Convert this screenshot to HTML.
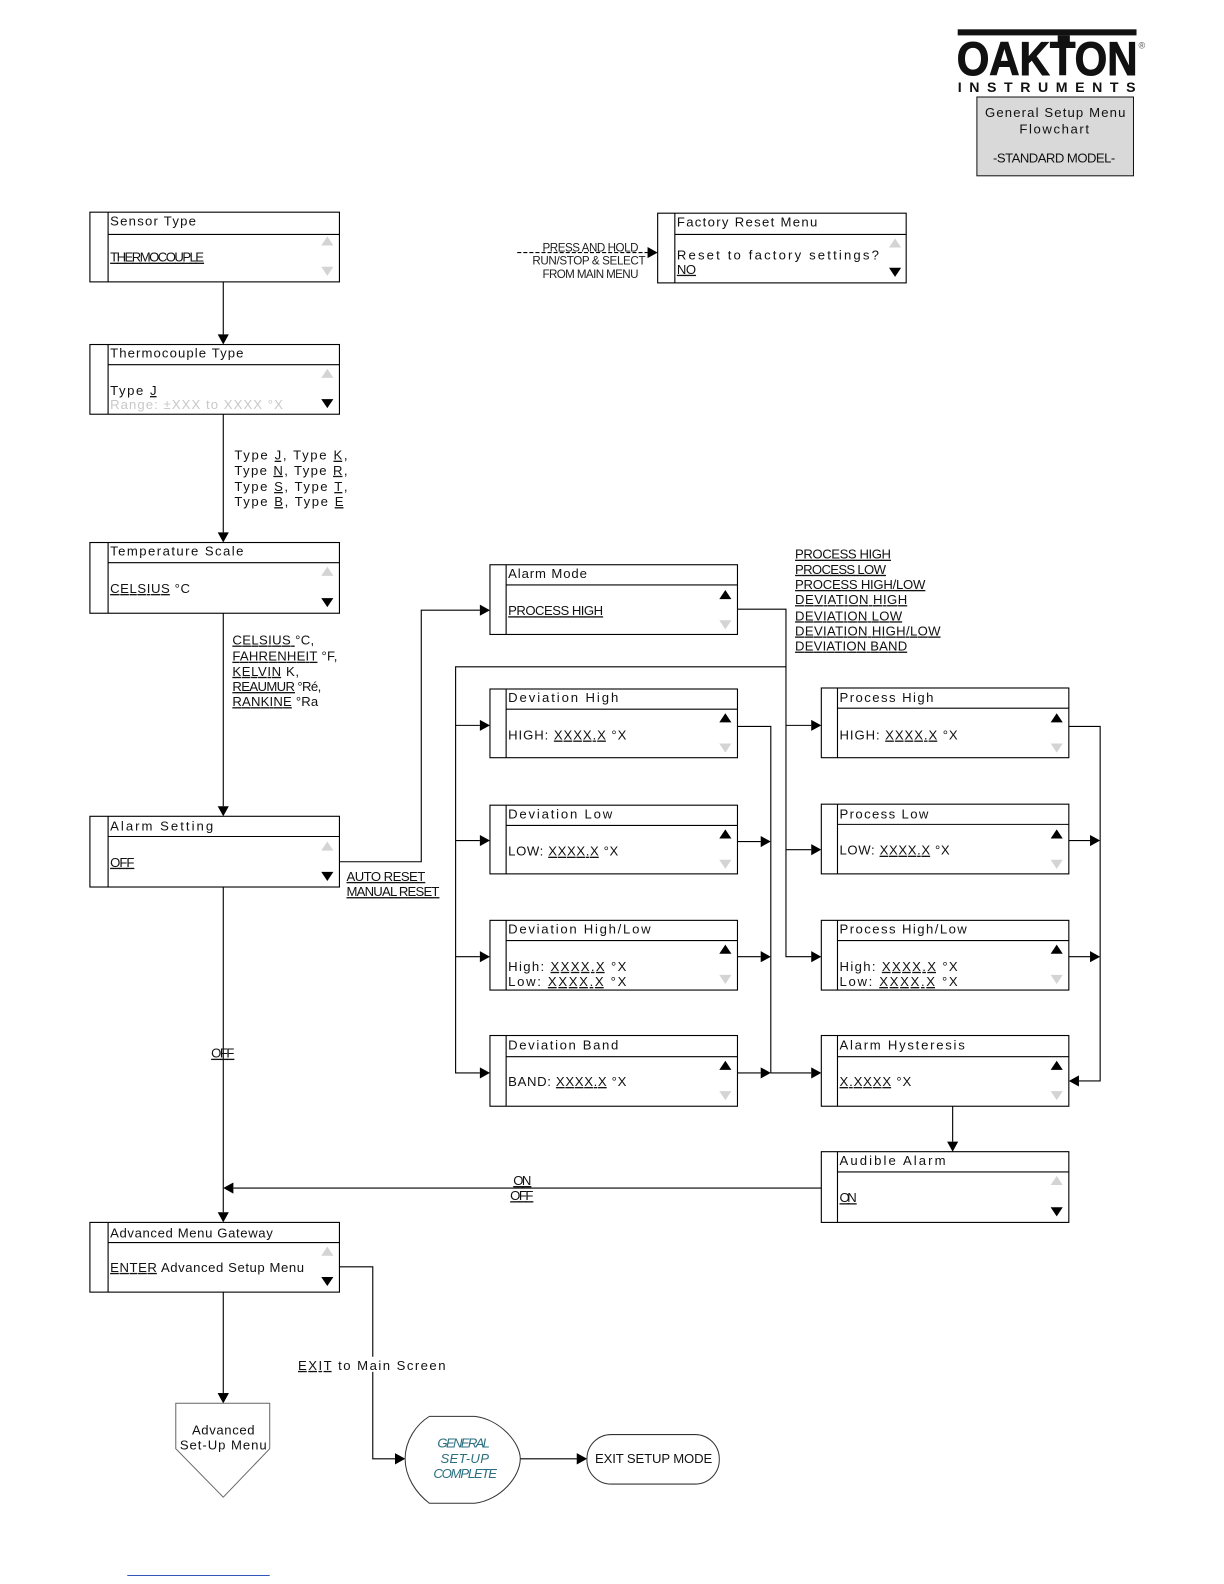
<!DOCTYPE html>
<html><head><meta charset="utf-8"><style>
html,body{margin:0;padding:0;background:#fff;width:1224px;height:1584px;overflow:hidden}
svg{display:block}
text{font-family:"Liberation Sans",sans-serif;font-size:13px;fill:#111}
.b{fill:#fff;stroke:#000;stroke-width:1.1}
.l{fill:none;stroke:#000;stroke-width:1.1}
.g{fill:#d4d4d4}.k{fill:#000}
.u{text-decoration:underline}
</style></head><body>
<svg width="1224" height="1584" viewBox="0 0 1211.6 1567.9" xmlns="http://www.w3.org/2000/svg">
<defs>
<polygon id="up" points="-6,4 6,4 0,-5"/>
<polygon id="dn" points="-6,-4 6,-4 0,5"/>
<polygon id="ar" points="-10,-5.5 0,0 -10,5.5" fill="#000"/>
<polygon id="ad" points="-5.5,-10 5.5,-10 0,0" fill="#000"/>
<polygon id="al" points="10,-5.5 0,0 10,5.5" fill="#000"/>
</defs>

<!-- logo -->
<rect x="948" y="29" width="177" height="6" fill="#111"/>
<rect x="1047" y="35" width="12" height="12" fill="#111"/>
<text x="947" y="74" textLength="179" lengthAdjust="spacingAndGlyphs" style="font-size:47px;font-weight:bold;stroke:#111;stroke-width:1">OAKTON</text>
<text x="948" y="91" textLength="176" style="font-size:14px;font-weight:bold">INSTRUMENTS</text>
<text x="1127" y="48" style="font-size:9px;fill:#555">®</text>
<rect x="967" y="96" width="155" height="78" fill="#d9d9d9" stroke="#111" stroke-width="1"/>
<text x="975" y="116" textLength="139">General  Setup  Menu</text>
<text x="1009" y="132" textLength="69">Flowchart</text>
<text x="983" y="161" textLength="121">-STANDARD MODEL-</text>

<!-- connectors -->
<path class="l" d="M221 279V331M221 410V527M221 607V798M221 878V1200M221 1279V1379"/>
<use href="#ad" x="221" y="341"/><use href="#ad" x="221" y="537"/><use href="#ad" x="221" y="808"/><use href="#ad" x="221" y="1210"/><use href="#ad" x="221" y="1389"/>
<path class="l" d="M336 853H417V604H475"/><use href="#ar" x="485" y="604"/>
<path class="l" d="M730 603H778V947H803M778 660H451V1062H475M451 718H475M451 832H475M451 947H475M778 718H803M778 841H803"/>
<use href="#ar" x="485" y="718"/><use href="#ar" x="485" y="832"/><use href="#ar" x="485" y="947"/><use href="#ar" x="485" y="1062"/>
<use href="#ar" x="813" y="718"/><use href="#ar" x="813" y="841"/><use href="#ar" x="813" y="947"/>
<path class="l" d="M730 719H763V1062H803M730 833H753M730 947H753M730 1062H753"/>
<use href="#ar" x="763" y="833"/><use href="#ar" x="763" y="947"/><use href="#ar" x="763" y="1062"/><use href="#ar" x="813" y="1062"/>
<path class="l" d="M1058 719H1089V1070H1068M1058 832H1079M1058 947H1079"/>
<use href="#ar" x="1089" y="832"/><use href="#ar" x="1089" y="947"/><use href="#al" x="1058" y="1070"/>
<path class="l" d="M943 1095V1130"/><use href="#ad" x="943" y="1140"/>
<path class="l" d="M813 1176H231"/><use href="#al" x="221" y="1176"/>
<path class="l" d="M336 1254H369V1444H391"/><use href="#ar" x="401" y="1444"/>
<path class="l" d="M515 1444H571"/><use href="#ar" x="581" y="1444"/>
<path class="l" d="M512 250H641" stroke-dasharray="4 2"/><use href="#ar" x="651" y="250"/>

<!-- Sensor Type -->
<rect class="b" x="89" y="210" width="247" height="69"/><path class="l" d="M107 210V279M107 232H336"/>
<text x="109" y="223" textLength="85">Sensor  Type</text>
<text x="109" y="259" textLength="93" class="u">THERMOCOUPLE</text>
<use href="#up" x="324" y="239" class="g"/><use href="#dn" x="324" y="268" class="g"/>

<!-- Thermocouple -->
<rect class="b" x="89" y="341" width="247" height="69"/><path class="l" d="M107 341V410M107 361H336"/>
<text x="109" y="354" textLength="132">Thermocouple  Type</text>
<text x="109" y="391" textLength="46">Type <tspan class="u"> J</tspan></text>
<text x="109" y="405" textLength="171" style="fill:#c8c8c8">Range:  ±XXX to XXXX °X</text>
<use href="#up" x="324" y="370" class="g"/><use href="#dn" x="324" y="399" class="k"/>
<text x="232" y="455" textLength="112">Type <tspan class="u">J</tspan>,  Type <tspan class="u">K</tspan>,</text>
<text x="232" y="470" textLength="112">Type <tspan class="u">N</tspan>,  Type <tspan class="u">R</tspan>,</text>
<text x="232" y="486" textLength="112">Type <tspan class="u">S</tspan>,  Type <tspan class="u">T</tspan>,</text>
<text x="232" y="501" textLength="108">Type <tspan class="u">B</tspan>,  Type <tspan class="u">E</tspan></text>

<!-- Temperature Scale -->
<rect class="b" x="89" y="537" width="247" height="70"/><path class="l" d="M107 537V607M107 557H336"/>
<text x="109" y="550" textLength="132">Temperature  Scale</text>
<text x="109" y="587" textLength="79"><tspan class="u">CELSIUS</tspan> °C</text>
<use href="#up" x="324" y="566" class="g"/><use href="#dn" x="324" y="596" class="k"/>
<text x="230" y="638" textLength="81"><tspan class="u">CELSIUS </tspan>°C,</text>
<text x="230" y="654" textLength="104"><tspan class="u">FAHRENHEIT</tspan> °F,</text>
<text x="230" y="669" textLength="66"><tspan class="u">KELVIN</tspan> K,</text>
<text x="230" y="684" textLength="88"><tspan class="u">REAUMUR</tspan> °Ré,</text>
<text x="230" y="699" textLength="85"><tspan class="u">RANKINE</tspan> °Ra</text>

<!-- Alarm Setting -->
<rect class="b" x="89" y="808" width="247" height="70"/><path class="l" d="M107 808V878M107 828H336"/>
<text x="109" y="822" textLength="102">Alarm Setting</text>
<text x="109" y="858" textLength="24" class="u">OFF</text>
<use href="#up" x="324" y="838" class="g"/><use href="#dn" x="324" y="867" class="k"/>
<text x="343" y="872" textLength="78" class="u">AUTO RESET</text>
<text x="343" y="887" textLength="92" class="u">MANUAL  RESET</text>
<text x="209" y="1047" textLength="23" class="u">OFF</text>

<!-- Advanced Gateway -->
<rect class="b" x="89" y="1210" width="247" height="69"/><path class="l" d="M107 1210V1279M107 1230H336"/>
<text x="109" y="1225" textLength="161">Advanced Menu Gateway</text>
<text x="109" y="1259" textLength="192"><tspan class="u">ENTER</tspan> Advanced  Setup  Menu</text>
<use href="#up" x="324" y="1239" class="g"/><use href="#dn" x="324" y="1268" class="k"/>

<!-- Factory -->
<rect class="b" x="651" y="211" width="246" height="69"/><path class="l" d="M668 211V280M668 232H897"/>
<text x="670" y="224" textLength="139">Factory Reset  Menu</text>
<text x="670" y="257" textLength="200">Reset to factory settings?</text>
<text x="670" y="271" textLength="19" class="u">NO</text>
<use href="#up" x="886" y="241" class="g"/><use href="#dn" x="886" y="269" class="k"/>
<text x="537" y="249" textLength="95" style="font-size:11.5px;fill:#222">PRESS AND HOLD</text>
<text x="527" y="262" textLength="112" style="font-size:11.5px;fill:#222">RUN/STOP &amp; SELECT</text>
<text x="537" y="275" textLength="95" style="font-size:11.5px;fill:#222">FROM MAIN MENU</text>

<!-- Alarm Mode -->
<rect class="b" x="485" y="559" width="245" height="69"/><path class="l" d="M501 559V628M501 579H730"/>
<text x="503" y="572" textLength="78">Alarm Mode</text>
<text x="503" y="609" textLength="94" class="u">PROCESS HIGH</text>
<use href="#up" x="718" y="589" class="k"/><use href="#dn" x="718" y="618" class="g"/>
<text x="787" y="553" textLength="95" class="u">PROCESS  HIGH</text>
<text x="787" y="568" textLength="90" class="u">PROCESS  LOW</text>
<text x="787" y="583" textLength="129" class="u">PROCESS  HIGH/LOW</text>
<text x="787" y="598" textLength="111" class="u">DEVIATION HIGH</text>
<text x="787" y="614" textLength="106" class="u">DEVIATION LOW</text>
<text x="787" y="629" textLength="144" class="u">DEVIATION HIGH/LOW</text>
<text x="787" y="644" textLength="111" class="u">DEVIATION BAND</text>

<!-- Deviation High -->
<rect class="b" x="485" y="682" width="245" height="68"/><path class="l" d="M501 682V750M501 702H730"/>
<text x="503" y="695" textLength="109">Deviation High</text>
<text x="503" y="732" textLength="117">HIGH:  <tspan class="u">XXXX.X</tspan> °X</text>
<use href="#up" x="718" y="711" class="k"/><use href="#dn" x="718" y="740" class="g"/>

<!-- Deviation Low -->
<rect class="b" x="485" y="797" width="245" height="68"/><path class="l" d="M501 797V865M501 817H730"/>
<text x="503" y="810" textLength="103">Deviation Low</text>
<text x="503" y="847" textLength="109">LOW: <tspan class="u">XXXX.X</tspan> °X</text>
<use href="#up" x="718" y="826" class="k"/><use href="#dn" x="718" y="855" class="g"/>

<!-- Deviation High/Low -->
<rect class="b" x="485" y="911" width="245" height="69"/><path class="l" d="M501 911V980M501 931H730"/>
<text x="503" y="924" textLength="141">Deviation High/Low</text>
<text x="503" y="961" textLength="117">High:  <tspan class="u">XXXX.X</tspan> °X</text>
<text x="503" y="976" textLength="117">Low:   <tspan class="u">XXXX.X</tspan> °X</text>
<use href="#up" x="718" y="940" class="k"/><use href="#dn" x="718" y="969" class="g"/>

<!-- Deviation Band -->
<rect class="b" x="485" y="1025" width="245" height="70"/><path class="l" d="M501 1025V1095M501 1046H730"/>
<text x="503" y="1039" textLength="109">Deviation Band</text>
<text x="503" y="1075" textLength="117">BAND:  <tspan class="u">XXXX.X</tspan> °X</text>
<use href="#up" x="718" y="1055" class="k"/><use href="#dn" x="718" y="1084" class="g"/>

<!-- Process High -->
<rect class="b" x="813" y="681" width="245" height="69"/><path class="l" d="M829 681V750M829 701H1058"/>
<text x="831" y="695" textLength="93">Process High</text>
<text x="831" y="732" textLength="117">HIGH:  <tspan class="u">XXXX.X</tspan> °X</text>
<use href="#up" x="1046" y="711" class="k"/><use href="#dn" x="1046" y="740" class="g"/>

<!-- Process Low -->
<rect class="b" x="813" y="796" width="245" height="69"/><path class="l" d="M829 796V865M829 816H1058"/>
<text x="831" y="810" textLength="88">Process Low</text>
<text x="831" y="846" textLength="109">LOW: <tspan class="u">XXXX.X</tspan> °X</text>
<use href="#up" x="1046" y="826" class="k"/><use href="#dn" x="1046" y="855" class="g"/>

<!-- Process High/Low -->
<rect class="b" x="813" y="911" width="245" height="69"/><path class="l" d="M829 911V980M829 931H1058"/>
<text x="831" y="924" textLength="126">Process High/Low</text>
<text x="831" y="961" textLength="117">High:  <tspan class="u">XXXX.X</tspan> °X</text>
<text x="831" y="976" textLength="117">Low:   <tspan class="u">XXXX.X</tspan> °X</text>
<use href="#up" x="1046" y="940" class="k"/><use href="#dn" x="1046" y="969" class="g"/>

<!-- Alarm Hysteresis -->
<rect class="b" x="813" y="1025" width="245" height="70"/><path class="l" d="M829 1025V1095M829 1046H1058"/>
<text x="831" y="1039" textLength="124">Alarm Hysteresis</text>
<text x="831" y="1075" textLength="71"><tspan class="u">X.XXXX</tspan> °X</text>
<use href="#up" x="1046" y="1055" class="k"/><use href="#dn" x="1046" y="1084" class="g"/>

<!-- Audible -->
<rect class="b" x="813" y="1140" width="245" height="70"/><path class="l" d="M829 1140V1210M829 1160H1058"/>
<text x="831" y="1153" textLength="105">Audible Alarm</text>
<text x="831" y="1190" textLength="17" class="u">ON</text>
<use href="#up" x="1046" y="1169" class="g"/><use href="#dn" x="1046" y="1199" class="k"/>
<text x="508" y="1173" textLength="18" class="u">ON</text>
<text x="505" y="1188" textLength="23" class="u">OFF</text>

<!-- bottom -->
<rect x="295" y="1343" width="148" height="15" fill="#fff"/>
<text x="295" y="1356" textLength="146"><tspan class="u">EXIT</tspan> to Main Screen</text>
<polygon points="174,1389 267,1389 267,1434 221,1482 174,1434" fill="#fff" stroke="#666" stroke-width="1"/>
<use href="#ad" x="221" y="1389"/>
<text x="190" y="1420" textLength="62">Advanced</text>
<text x="178" y="1435" textLength="86">Set-Up  Menu</text>
<path d="M425 1402H470C495 1405 515 1428 515 1444C515 1462 495 1485 470 1488H425C412 1478 401 1462 401 1444C401 1426 412 1410 425 1402Z" fill="#fff" stroke="#333" stroke-width="1"/>
<use href="#ar" x="401" y="1444"/>
<text x="433" y="1433" textLength="52" style="fill:#2a6f7f;font-style:italic">GENERAL</text>
<text x="436" y="1448" textLength="48" style="fill:#2a6f7f;font-style:italic">SET-UP</text>
<text x="429" y="1463" textLength="63" style="fill:#2a6f7f;font-style:italic">COMPLETE</text>
<rect x="581" y="1420" width="131" height="49" rx="24" fill="#fff" stroke="#333" stroke-width="1"/>
<use href="#ar" x="581" y="1444"/>
<text x="589" y="1448" textLength="116">EXIT SETUP MODE</text>
<rect x="126" y="1559" width="141" height="1" fill="#3355bb"/>
</svg>
</body></html>
